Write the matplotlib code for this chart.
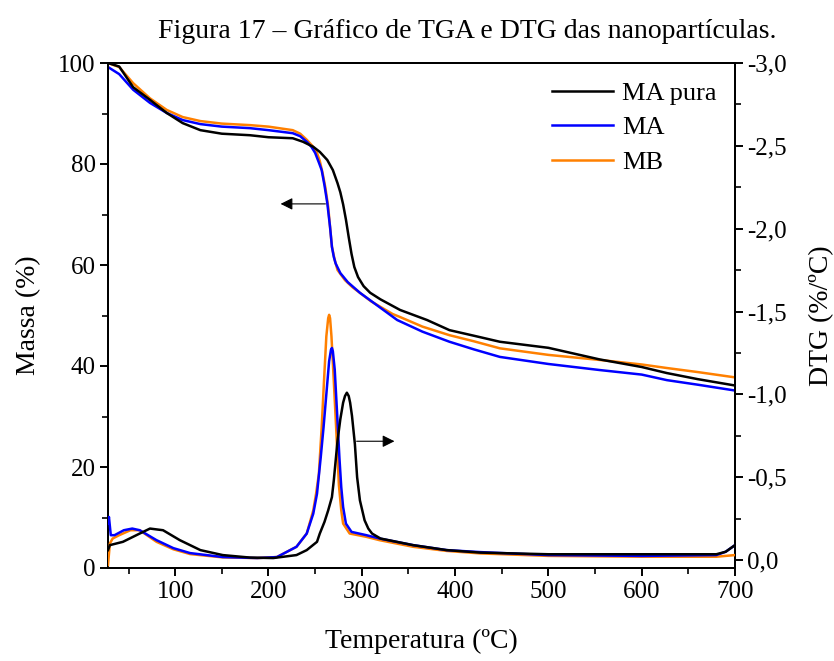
import matplotlib
matplotlib.use("Agg")
import matplotlib.pyplot as plt
from matplotlib.ticker import MultipleLocator, FuncFormatter

# ---------------- data ----------------
tga_black_T = [28, 40, 55, 73, 91, 108, 127, 150, 180, 200, 226, 237, 248, 255, 263, 269, 274, 277, 280, 283, 286, 289, 292, 296, 302, 309, 320, 341, 370, 394, 420, 448, 500, 555, 600, 627, 660, 698]
tga_black_M = [100, 99.3, 95.2, 92.7, 90.1, 88.1, 86.7, 86.0, 85.7, 85.3, 85.1, 84.4, 83.4, 82.4, 80.8, 78.8, 76.2, 74.4, 72.0, 69.0, 65.5, 62.2, 59.6, 57.6, 55.8, 54.5, 53.2, 51.1, 49.1, 47.1, 46.0, 44.8, 43.6, 41.3, 39.8, 38.6, 37.4, 36.2]

tga_blue_T = [28, 40, 55, 73, 91, 108, 127, 150, 180, 200, 226, 234, 241, 246, 250, 254, 257, 260, 263, 266, 268, 270, 272, 277, 285, 298, 315, 338, 365, 394, 420, 448, 500, 555, 600, 627, 660, 698]
tga_blue_M = [99.2, 97.8, 94.7, 92.1, 90.1, 88.7, 87.9, 87.4, 87.1, 86.7, 86.1, 85.5, 84.4, 83.4, 82.2, 80.3, 78.8, 75.8, 72.3, 67.5, 63.6, 61.6, 60.3, 58.4, 56.6, 54.5, 52.2, 49.1, 46.8, 44.8, 43.3, 41.8, 40.4, 39.2, 38.3, 37.2, 36.3, 35.2]

tga_orange_T = [28, 40, 55, 73, 91, 108, 127, 150, 180, 200, 226, 234, 241, 247, 252, 255, 258, 261, 264, 266, 268, 271, 274, 282, 290, 310, 333, 341, 365, 394, 420, 448, 500, 555, 600, 627, 660, 698]
tga_orange_M = [100, 99.2, 96.0, 93.0, 90.7, 89.3, 88.5, 88.0, 87.7, 87.4, 86.7, 86.0, 84.8, 83.6, 82.2, 80.6, 78.2, 75.3, 71.5, 67.5, 63.6, 61.0, 59.0, 57.0, 55.6, 52.8, 50.3, 49.7, 47.8, 46.1, 44.9, 43.5, 42.2, 41.2, 40.3, 39.6, 38.8, 37.8]

dtg_black_T = [28, 30, 44, 62, 73, 87, 105, 127, 151, 180, 205, 230, 241, 252, 255, 260, 264, 268, 270, 274, 277, 280, 282, 284, 286, 287.5, 289.5, 292.6, 295, 298, 303, 307, 311, 320, 355, 391, 427, 500, 600, 680, 690, 700]
dtg_black_D = [-0.06, -0.09, -0.11, -0.16, -0.19, -0.18, -0.12, -0.06, -0.03, -0.015, -0.012, -0.03, -0.06, -0.11, -0.16, -0.23, -0.30, -0.38, -0.48, -0.72, -0.85, -0.95, -0.99, -1.01, -0.99, -0.95, -0.87, -0.70, -0.50, -0.36, -0.24, -0.19, -0.16, -0.13, -0.09, -0.06, -0.045, -0.035, -0.035, -0.035, -0.05, -0.09]

dtg_blue_T = [28, 29, 31, 35, 45, 54, 62, 80, 98, 116, 151, 188, 209, 230, 241, 248, 252, 256, 259, 262, 265, 267, 268, 269, 271, 273.5, 276, 278, 280, 283, 289, 305, 319, 355, 391, 427, 500, 600, 680, 690, 700]
dtg_blue_D = [-0.22, -0.26, -0.15, -0.15, -0.18, -0.19, -0.18, -0.12, -0.072, -0.042, -0.018, -0.012, -0.018, -0.08, -0.16, -0.28, -0.40, -0.62, -0.80, -1.00, -1.20, -1.27, -1.28, -1.26, -1.15, -0.89, -0.62, -0.44, -0.32, -0.22, -0.17, -0.15, -0.13, -0.09, -0.06, -0.048, -0.03, -0.025, -0.03, -0.05, -0.09]

dtg_orange_T = [28, 30, 33, 40, 52, 62, 80, 98, 116, 151, 188, 209, 230, 241, 248, 251, 254, 257, 259.5, 262, 264, 265, 266, 267.5, 270, 272.5, 275.5, 278, 280, 287, 305, 319, 355, 391, 427, 500, 600, 680, 700]
dtg_orange_D = [0.03, -0.10, -0.13, -0.15, -0.18, -0.18, -0.11, -0.065, -0.036, -0.016, -0.012, -0.018, -0.08, -0.16, -0.30, -0.40, -0.52, -0.80, -1.08, -1.35, -1.46, -1.48, -1.46, -1.35, -1.08, -0.80, -0.45, -0.30, -0.22, -0.16, -0.14, -0.12, -0.08, -0.055, -0.04, -0.025, -0.02, -0.02, -0.03]

labels = ["MA pura", "MA", "MB"]
colors = ["#000000", "#0000FF", "#FF8000"]

x_ticks = [100, 200, 300, 400, 500, 600, 700]
left_ticks = [0, 20, 40, 60, 80, 100]
right_ticks = [0.0, -0.5, -1.0, -1.5, -2.0, -2.5, -3.0]

# ---------------- figure ----------------
plt.rcParams['font.family'] = ['Liberation Serif', 'DejaVu Serif']
fig = plt.figure(figsize=(8.34, 6.61), dpi=100)
ax = fig.add_axes([108/834, 93/661, 627/834, 505/661])
ax2 = ax.twinx()

lw = 1.8
tga = [(tga_black_T, tga_black_M), (tga_blue_T, tga_blue_M), (tga_orange_T, tga_orange_M)]
dtg = [(dtg_black_T, dtg_black_D), (dtg_blue_T, dtg_blue_D), (dtg_orange_T, dtg_orange_D)]
order = [2, 1, 0]
handles = [None] * 3
for i in order:
    h, = ax.plot(tga[i][0], tga[i][1], color=colors[i], lw=lw, label=labels[i], zorder=3 + (2 - i))
    handles[i] = h
    ax2.plot(dtg[i][0], dtg[i][1], color=colors[i], lw=lw, zorder=3 + (2 - i))

ax.set_xlim(28, 700)
ax.set_ylim(0, 100)
ax2.set_ylim(0.048, -3.0)

ax.set_xticks(x_ticks)
ax.xaxis.set_minor_locator(MultipleLocator(50))
ax.set_yticks(left_ticks)
ax.yaxis.set_minor_locator(MultipleLocator(10))
ax2.set_yticks(right_ticks)
ax2.yaxis.set_minor_locator(MultipleLocator(0.25))
ax2.yaxis.set_major_formatter(FuncFormatter(lambda v, p: ("%.1f" % v).replace(".", ",") if abs(v) > 1e-9 else "0,0"))

for a in (ax, ax2):
    for s in a.spines.values():
        s.set_linewidth(1.4)
    a.tick_params(which='major', length=6, width=1.4, direction='out', labelsize=18, pad=3)
    a.tick_params(which='minor', length=4, width=1.2, direction='out')
ax.tick_params(axis='x', top=False)

ax.set_xlabel("Temperatura (ºC)", fontsize=20, labelpad=19)
ax.set_ylabel("Massa (%)", fontsize=20, labelpad=12)
ax2.set_ylabel("DTG (%/ºC)", fontsize=20, labelpad=16)

# arrows
ax.annotate("", xy=(210, 72.1), xytext=(264, 72.1),
            arrowprops=dict(arrowstyle="-|>", color="black", lw=0.8, mutation_scale=18))
ax.annotate("", xy=(338, 25.1), xytext=(291.5, 25.1),
            arrowprops=dict(arrowstyle="-|>", color="black", lw=0.8, mutation_scale=18))

ax.legend(handles=handles, loc='upper right', bbox_to_anchor=(1.0, 1.0), frameon=False,
          fontsize=19, handlelength=2.3, handletextpad=0.35, labelspacing=0.42, borderaxespad=0.3)

fig.text(0.56, 0.953, "Figura 17 – Gráfico de TGA e DTG das nanopartículas.", ha='center', va='center', fontsize=20)

fig.savefig("out.png", dpi=100)
